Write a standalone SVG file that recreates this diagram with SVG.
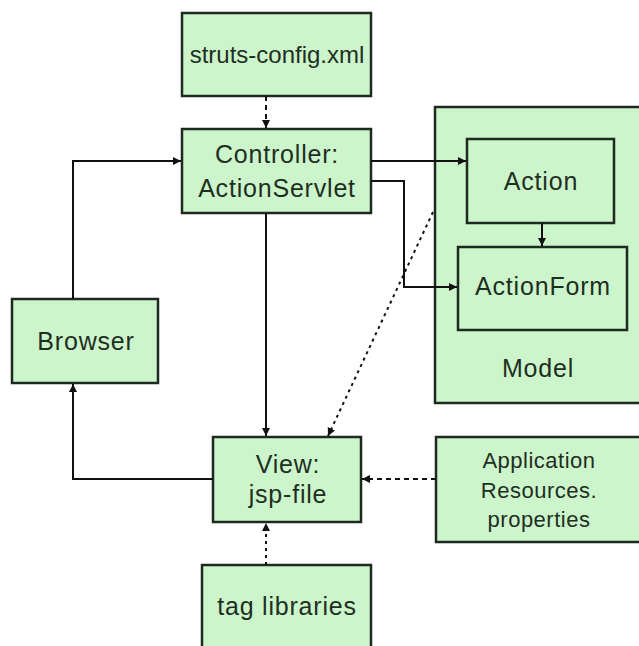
<svg xmlns="http://www.w3.org/2000/svg" width="639" height="646" viewBox="0 0 639 646">
<style>
.box{fill:#ccf5cc;stroke:#1e2a1e;stroke-width:2.5}
.t{font-family:"Liberation Sans",Arial,sans-serif;font-size:25px;fill:#1f2f1f;text-anchor:middle;letter-spacing:0.8px}
.s{font-size:22px;letter-spacing:0.5px}
.c{fill:none;stroke:#111;stroke-width:2}
.dash{stroke-dasharray:5,4}
.dot{stroke-dasharray:3,4}
</style>
<defs>
<marker id="ah" markerUnits="userSpaceOnUse" markerWidth="9" markerHeight="9" refX="8" refY="4.5" orient="auto">
<path d="M0,0.5 L8,4.5 L0,8.5 z" fill="#111"/>
</marker>
</defs>
<rect width="639" height="646" fill="#fff"/>
<g id="model">
<rect class="box" x="435" y="107" width="212" height="296"/>
<text class="t" x="538" y="377">Model</text>
</g>
<g id="struts-config">
<rect class="box" x="182" y="13" width="189" height="83"/>
<text class="t" x="277" y="63" style="font-size:24px;letter-spacing:0">struts-config.xml</text>
</g>
<g id="controller">
<rect class="box" x="182" y="129" width="189" height="84"/>
<text class="t" x="277" y="163">Controller:</text>
<text class="t" x="277" y="197">ActionServlet</text>
</g>
<g id="action">
<rect class="box" x="467" y="139" width="147" height="84"/>
<text class="t" x="541" y="190">Action</text>
</g>
<g id="actionform">
<rect class="box" x="458" y="247" width="169" height="83"/>
<text class="t" x="543" y="295">ActionForm</text>
</g>
<g id="browser">
<rect class="box" x="12" y="299" width="146" height="84"/>
<text class="t" x="86" y="350">Browser</text>
</g>
<g id="view">
<rect class="box" x="213" y="437" width="148" height="85"/>
<text class="t" x="288" y="473">View:</text>
<text class="t" x="288" y="503">jsp-file</text>
</g>
<g id="appresources">
<rect class="box" x="436" y="437" width="212" height="105"/>
<text class="t s" x="539" y="468">Application</text>
<text class="t s" x="539" y="498">Resources.</text>
<text class="t s" x="539" y="527">properties</text>
</g>
<g id="taglibs">
<rect class="box" x="202" y="565" width="169" height="90"/>
<text class="t" x="287" y="615">tag libraries</text>
</g>
<g id="connectors">
<path class="c dash" d="M266,96 V128" marker-end="url(#ah)"/>
<path class="c" d="M73,299 V161 H181" marker-end="url(#ah)"/>
<path class="c" d="M371,161 H466" marker-end="url(#ah)"/>
<path class="c" d="M371,181 H404 V287 H457" marker-end="url(#ah)"/>
<path class="c" d="M542,223 V246" marker-end="url(#ah)"/>
<path class="c dot" d="M433,212 L328,436" marker-end="url(#ah)"/>
<path class="c" d="M266,213 V436" marker-end="url(#ah)"/>
<path class="c" d="M213,479 H73 V384" marker-end="url(#ah)"/>
<path class="c dash" d="M436,479 H362" marker-end="url(#ah)"/>
<path class="c dot" d="M266,565 V523" marker-end="url(#ah)"/>
</g>
</svg>
